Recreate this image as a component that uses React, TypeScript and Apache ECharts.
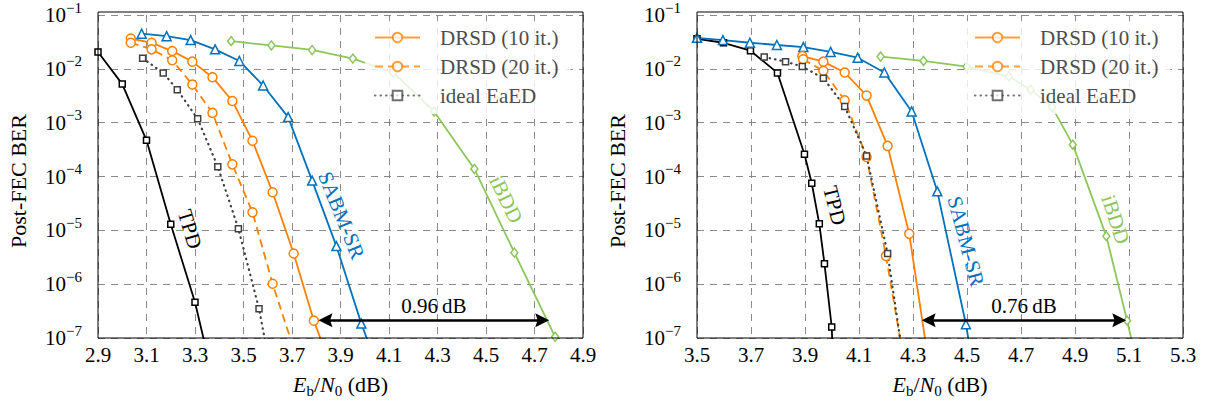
import React, { useEffect, useRef } from 'react';
import * as echarts from 'echarts';

// ---------- axis ranges ----------
const X0_L = 2.9;
const X1_L = 4.9;
const X0_R = 3.5;
const X1_R = 5.3;
const Y_MIN = 1e-7;
const Y_MAX = 1e-1;

// ---------- left panel data ----------
const L_TPD_X = [2.9, 3.0, 3.1, 3.2, 3.3, 3.4];
const L_TPD_Y = [2.05e-2, 5.2e-3, 4.7e-4, 1.3e-5, 4.6e-7, 5.7e-9];

const L_D10_X = [3.035, 3.121, 3.206, 3.289, 3.372, 3.454, 3.537, 3.62, 3.707, 3.79, 3.873];
const L_D10_Y = [3.66e-2, 3.05e-2, 2.14e-2, 1.36e-2, 7.0e-3, 2.53e-3, 4.6e-4, 5.1e-5, 3.7e-6, 2.1e-7, 2.1e-8];

const L_D20_X = [3.035, 3.121, 3.206, 3.289, 3.372, 3.454, 3.537, 3.62, 3.703];
const L_D20_Y = [3.05e-2, 2.3e-2, 1.44e-2, 5.1e-3, 1.52e-3, 1.68e-4, 2.16e-5, 1.02e-6, 7.2e-8];

const L_EAED_X = [3.084, 3.169, 3.227, 3.311, 3.394, 3.479, 3.564, 3.649];
const L_EAED_Y = [1.57e-2, 8.4e-3, 4.1e-3, 1.18e-3, 1.52e-4, 1.07e-5, 3.5e-7, 3.3e-9];

const L_SABM_X = [3.08, 3.183, 3.282, 3.383, 3.483, 3.581, 3.684, 3.783, 3.883, 3.986, 4.086];
const L_SABM_Y = [4.5e-2, 4.04e-2, 3.42e-2, 2.3e-2, 1.4e-2, 4.9e-3, 1.27e-3, 8.4e-5, 5.1e-6, 1.85e-7, 1.1e-8];

const L_IBDD_X = [3.449, 3.615, 3.783, 3.951, 4.118, 4.286, 4.452, 4.617, 4.785];
const L_IBDD_Y = [3.27e-2, 2.72e-2, 2.24e-2, 1.55e-2, 8.55e-3, 1.61e-3, 1.38e-4, 3.85e-6, 1.05e-7];

// ---------- right panel data ----------
const R_TPD_X = [3.5, 3.598, 3.698, 3.798, 3.898, 3.925, 3.953, 3.972, 3.999, 4.02];
const R_TPD_Y = [3.61e-2, 3.05e-2, 2.17e-2, 8.4e-3, 2.6e-4, 7.5e-5, 1.32e-5, 2.4e-6, 1.6e-7, 3e-10];

const R_D10_X = [3.89, 3.968, 4.047, 4.128, 4.206, 4.286, 4.366];
const R_D10_Y = [1.73e-2, 1.36e-2, 8.55e-3, 3.18e-3, 3.7e-4, 8.6e-6, 1.9e-8];

const R_D20_X = [3.893, 3.968, 4.047, 4.128, 4.2, 4.28];
const R_D20_Y = [1.5e-2, 9.2e-3, 2.6e-3, 2.3e-4, 3.35e-6, 1.5e-8];

const R_EAED_X = [3.749, 3.828, 3.89, 3.968, 4.047, 4.128, 4.206, 4.286];
const R_EAED_Y = [1.66e-2, 1.36e-2, 1.1e-2, 6.7e-3, 2.0e-3, 2.4e-4, 3.7e-6, 7e-9];

const R_SABM_X = [3.5, 3.596, 3.696, 3.796, 3.894, 3.995, 4.095, 4.194, 4.295, 4.39, 4.496, 4.6];
const R_SABM_Y = [3.77e-2, 3.42e-2, 3.05e-2, 2.77e-2, 2.54e-2, 2.06e-2, 1.61e-2, 8.55e-3, 1.61e-3, 5.3e-5, 1.8e-7, 1.5e-10];

const R_IBDD_X = [4.18, 4.339, 4.498, 4.655, 4.736, 4.815, 4.892, 5.016, 5.093, 5.17];
const R_IBDD_Y = [1.69e-2, 1.4e-2, 1.1e-2, 7.2e-3, 4.1e-3, 1.94e-3, 3.9e-4, 7.8e-6, 2.1e-7, 4.4e-9];

// ---------- legend / annotations ----------
const LEGEND_NAMES = ['DRSD (10 it.)', 'DRSD (20 it.)', 'ideal EaED'];
const ARROW_L = { x1: 3.838, x2: 4.732, y: 2.13e-7, text: '0.96\u2009dB' };
const ARROW_R = { x1: 4.358, x2: 5.064, y: 2.13e-7, text: '0.76\u2009dB' };

// ---------- styling ----------
const FONT = 'Liberation Serif, serif';
const C_BLACK = '#000000';
const C_ORANGE = '#ff8000';
const C_BLUE = '#0072bd';
const C_GREEN = '#8dc65a';
const C_GRAY = '#404040';

const GRIDS = [
  { left: 98, top: 12, width: 485, height: 326 },
  { left: 697, top: 12, width: 486, height: 326 },
];

const CURVE_LABELS = [
  { text: 'TPD', g: 0, x: 3.279, y: 1.05e-5, rot: -73, color: C_BLACK },
  { text: 'SABM-SR', g: 0, x: 3.904, y: 1.9e-5, rot: -68, color: C_BLUE },
  { text: 'iBDD', g: 0, x: 4.583, y: 3.76e-5, rot: -64, color: C_GREEN },
  { text: 'TPD', g: 1, x: 4.01, y: 2.9e-5, rot: -76, color: C_BLACK },
  { text: 'SABM-SR', g: 1, x: 4.496, y: 6.3e-6, rot: -75, color: C_BLUE },
  { text: 'iBDD', g: 1, x: 5.05, y: 1.6e-5, rot: -72, color: C_GREEN },
];

const ARROW_PATH = 'path://M7,0 L14,15 L7,12.5 L0,15 Z';

function mkSeries(
  name: string,
  xs: number[],
  ys: number[],
  x0: number,
  g: number,
  color: string,
  symbol: string,
  symbolSize: any,
  lineType: any,
  extra: any = {}
) {
  return {
    type: 'line',
    name,
    xAxisIndex: g,
    yAxisIndex: g,
    data: xs.map((x, i) => [x - x0, ys[i]]),
    symbol,
    symbolSize,
    showSymbol: true,
    clip: true,
    z: 3,
    itemStyle: { color: '#ffffff', borderColor: color, borderWidth: 1.5 },
    lineStyle: {
      color,
      width: lineType === 'dot' ? 2.2 : 1.8,
      type: lineType === 'dot' ? [0.5, 5] : lineType,
      cap: lineType === 'dot' ? 'round' : 'butt',
    },
    emphasis: { disabled: true },
    ...extra,
  };
}

function mkArrow(a: { x1: number; x2: number; y: number; text: string }, x0: number) {
  return {
    silent: true,
    symbol: [ARROW_PATH, ARROW_PATH],
    symbolSize: 14,
    lineStyle: { color: '#000', width: 2.5, type: 'solid' },
    label: {
      show: true,
      position: 'middle',
      formatter: a.text,
      fontSize: 21,
      fontFamily: FONT,
      color: '#000',
      distance: 4,
    },
    emphasis: { disabled: true },
    data: [[{ coord: [a.x1 - x0, a.y] }, { coord: [a.x2 - x0, a.y] }]],
  };
}

function mkXAxis(g: number, x0: number, x1: number) {
  return {
    type: 'value',
    gridIndex: g,
    min: 0,
    max: Math.round((x1 - x0) * 10) / 10,
    interval: 0.2,
    axisLine: { show: false },
    axisTick: { show: false },
    splitLine: { show: true, lineStyle: { color: '#8a8a8a', width: 1, type: [7, 6] } },
    axisLabel: {
      formatter: (v: number) => (v + x0).toFixed(1),
      fontSize: 21,
      fontFamily: FONT,
      color: '#000',
      margin: 6,
    },
    name: '{i|E}{r|b}{n|/}{i|N}{r|0}{n| (dB)}',
    nameLocation: 'middle',
    nameGap: 32,
    nameTextStyle: {
      fontFamily: FONT,
      rich: {
        i: { fontSize: 22, fontStyle: 'italic', lineHeight: 28, fontFamily: FONT, color: '#000' },
        n: { fontSize: 22, lineHeight: 28, fontFamily: FONT, color: '#000' },
        r: { fontSize: 15, lineHeight: 15, verticalAlign: 'bottom', fontFamily: FONT, color: '#000' },
      },
    },
  };
}

function mkYAxis(g: number) {
  return {
    type: 'log',
    logBase: 10,
    gridIndex: g,
    min: Y_MIN,
    max: Y_MAX,
    splitNumber: 6,
    axisLine: { show: false },
    axisTick: { show: false },
    splitLine: { show: true, lineStyle: { color: '#8a8a8a', width: 1, type: [7, 6] } },
    axisLabel: {
      formatter: (v: number) => {
        const e = Math.round(Math.log10(v));
        return '{b|10}{s|\u2212' + -e + '}';
      },
      fontSize: 21,
      fontFamily: FONT,
      color: '#000',
      margin: 16,
      rich: {
        b: { fontSize: 21, lineHeight: 30, fontFamily: FONT, color: '#000' },
        s: { fontSize: 15, lineHeight: 15, verticalAlign: 'top', fontFamily: FONT, color: '#000' },
      },
    },
  };
}

function mkLegend(left: number) {
  return {
    data: LEGEND_NAMES,
    orient: 'vertical',
    left,
    top: 21,
    padding: [6, 12, 8, 9],
    itemGap: 8,
    itemWidth: 45,
    itemHeight: 12,
    backgroundColor: 'rgba(255,255,255,0.8)',
    selectedMode: false,
    textStyle: { fontSize: 21, fontFamily: FONT, color: '#4d4d4d', padding: [0, 0, 0, 15] },
    itemStyle: { opacity: 0.75 },
    lineStyle: { opacity: 0.75 },
    z: 6,
  };
}

export default function App() {
  const ref = useRef<HTMLDivElement>(null);

  useEffect(() => {
    if (!ref.current) return;
    const chart = echarts.init(ref.current, null, { renderer: 'svg' });

    const series: any[] = [
      mkSeries('TPD', L_TPD_X, L_TPD_Y, X0_L, 0, C_BLACK, 'rect', 6, 'solid'),
      mkSeries('SABM-SR', L_SABM_X, L_SABM_Y, X0_L, 0, C_BLUE, 'triangle', 9, 'solid'),
      mkSeries('iBDD', L_IBDD_X, L_IBDD_Y, X0_L, 0, C_GREEN, 'diamond', [7, 9], 'solid', {
        markLine: mkArrow(ARROW_L, X0_L),
      }),
      mkSeries('DRSD (10 it.)', L_D10_X, L_D10_Y, X0_L, 0, C_ORANGE, 'circle', 9, 'solid'),
      mkSeries('DRSD (20 it.)', L_D20_X, L_D20_Y, X0_L, 0, C_ORANGE, 'circle', 9, [8, 5]),
      mkSeries('ideal EaED', L_EAED_X, L_EAED_Y, X0_L, 0, C_GRAY, 'rect', 6, 'dot'),

      mkSeries('TPD', R_TPD_X, R_TPD_Y, X0_R, 1, C_BLACK, 'rect', 6, 'solid'),
      mkSeries('SABM-SR', R_SABM_X, R_SABM_Y, X0_R, 1, C_BLUE, 'triangle', 9, 'solid'),
      mkSeries('iBDD', R_IBDD_X, R_IBDD_Y, X0_R, 1, C_GREEN, 'diamond', [7, 9], 'solid', {
        markLine: mkArrow(ARROW_R, X0_R),
      }),
      mkSeries('DRSD (10 it.)', R_D10_X, R_D10_Y, X0_R, 1, C_ORANGE, 'circle', 9, 'solid'),
      mkSeries('DRSD (20 it.)', R_D20_X, R_D20_Y, X0_R, 1, C_ORANGE, 'circle', 9, [8, 5]),
      mkSeries('ideal EaED', R_EAED_X, R_EAED_Y, X0_R, 1, C_GRAY, 'rect', 6, 'dot'),
    ];

    chart.setOption({
      animation: false,
      backgroundColor: '#ffffff',
      textStyle: { fontFamily: FONT },
      grid: GRIDS.map((g) => ({ ...g, containLabel: false })),
      xAxis: [mkXAxis(0, X0_L, X1_L), mkXAxis(1, X0_R, X1_R)],
      yAxis: [mkYAxis(0), mkYAxis(1)],
      legend: [mkLegend(365), mkLegend(965)],
      series,
    });

    const x0s = [X0_L, X0_R];
    const labelEls = CURVE_LABELS.map((l) => {
      const p = chart.convertToPixel({ xAxisIndex: l.g, yAxisIndex: l.g } as any, [l.x - x0s[l.g], l.y]) as number[];
      return {
        type: 'text',
        x: p[0],
        y: p[1],
        rotation: (l.rot * Math.PI) / 180,
        z: 50,
        silent: true,
        style: {
          text: l.text,
          fill: l.color,
          fontSize: 21,
          fontFamily: FONT,
          align: 'center',
          verticalAlign: 'middle',
        },
      };
    });
    const borders = GRIDS.map((g) => ({
      type: 'rect',
      z: 40,
      silent: true,
      shape: { x: g.left, y: g.top, width: g.width, height: g.height },
      style: { fill: 'none', stroke: '#000', lineWidth: 1 },
    }));
    const yNames = GRIDS.map((g) => ({
      type: 'text',
      x: g.left - 80,
      y: g.top + g.height / 2 + 6,
      rotation: Math.PI / 2,
      z: 50,
      silent: true,
      style: {
        text: 'Post-FEC BER',
        fill: '#000',
        fontSize: 22,
        fontFamily: FONT,
        align: 'center',
        verticalAlign: 'middle',
      },
    }));

    chart.setOption({ graphic: [...borders, ...labelEls, ...yNames] });

    return () => chart.dispose();
  }, []);

  return (
    <div
      ref={ref}
      style={{ position: 'fixed', left: 0, top: 0, width: 1208, height: 407, background: '#fff' }}
    />
  );
}
